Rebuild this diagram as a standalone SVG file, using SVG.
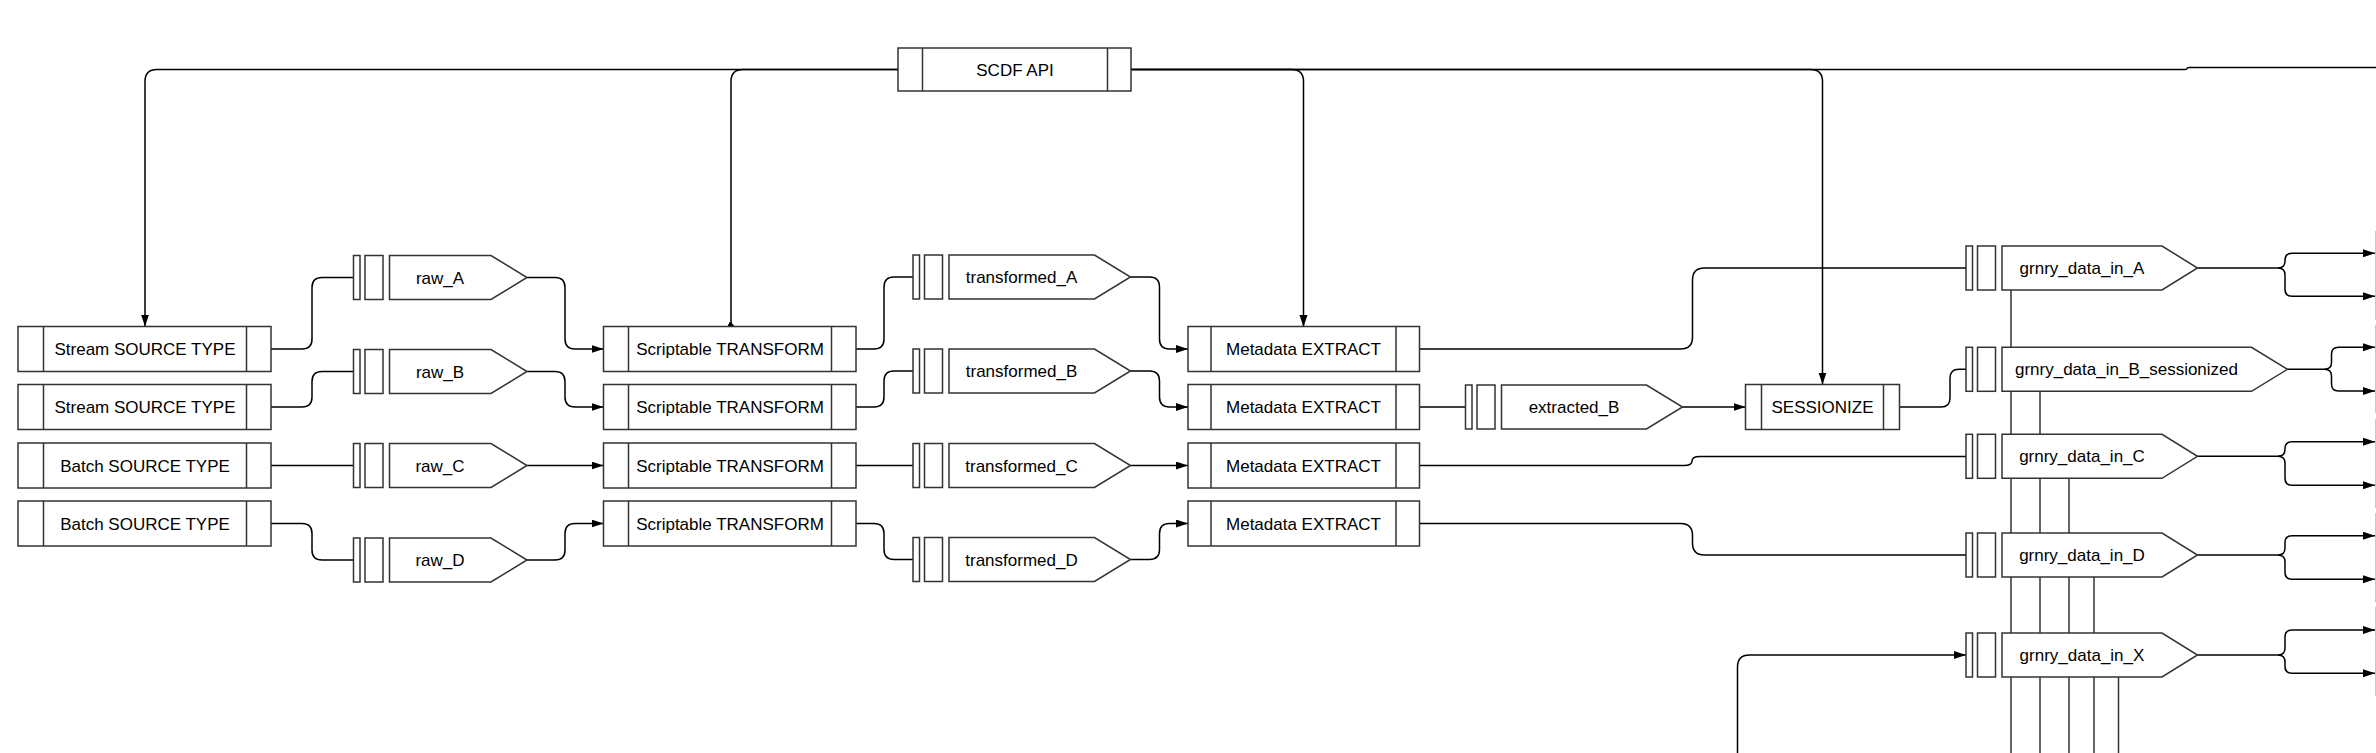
<svg xmlns="http://www.w3.org/2000/svg" width="2376" height="753" viewBox="0 0 2376 753">
<defs>
<style>
.box{fill:#fff;stroke:#333;stroke-width:1.5}
.bar{fill:none;stroke:#333;stroke-width:1.5}
.conn{fill:none;stroke:#000;stroke-width:1.5}
.drop{fill:none;stroke:#333;stroke-width:1.5}
.edge{fill:none;stroke:#c8c8c8;stroke-width:1}
text{font-family:"Liberation Sans",Arial,sans-serif;font-size:17px;fill:#000;text-anchor:middle}
</style>
<marker id="arr" markerUnits="userSpaceOnUse" markerWidth="13" markerHeight="10" refX="12" refY="4" orient="auto">
<path d="M0,0 L12,4 L0,8 z" fill="#000"/>
</marker>
<marker id="tiny" markerUnits="userSpaceOnUse" markerWidth="7" markerHeight="6" refX="6" refY="2.5" orient="auto">
<path d="M0,0 L6,2.5 L0,5 z" fill="#000"/>
</marker>
</defs>
<rect width="2376" height="753" fill="#fff"/>

<g id="drop-lines">
<line class="drop" x1="2011" y1="290" x2="2011" y2="753"/>
<line class="drop" x1="2040" y1="391" x2="2040" y2="753"/>
<line class="drop" x1="2069" y1="478" x2="2069" y2="753"/>
<line class="drop" x1="2094" y1="577" x2="2094" y2="753"/>
<line class="drop" x1="2118.5" y1="677" x2="2118.5" y2="753"/>
</g>

<g id="connectors">
<path class="conn" marker-end="url(#arr)" d="M898,69.5 H157 Q145,69.5 145,81.5 V326.5"/>
<path class="conn" marker-end="url(#tiny)" d="M898,69.5 H743 Q731,69.5 731,81.5 V322 Q731,325 734,326.5"/>
<path class="conn" marker-end="url(#arr)" d="M1131,69.5 H1291.5 Q1303.5,69.5 1303.5,81.5 V327"/>
<path class="conn" marker-end="url(#arr)" d="M1131,69.5 H1810.5 Q1822.5,69.5 1822.5,81.5 V384.5"/>
<path class="conn" d="M1131,69.5 H2185 Q2187,69.5 2187,68.5 Q2187,67.5 2189,67.5 H2376"/>

<path class="conn" d="M271,349 H302 Q312,349 312,339 V287.5 Q312,277.5 322,277.5 H353.5"/>
<path class="conn" d="M271,407 H302 Q312,407 312,397 V381.5 Q312,371.5 322,371.5 H353.5"/>
<path class="conn" d="M271,465.5 H353.5"/>
<path class="conn" d="M271,523.5 H302 Q312,523.5 312,533.5 V550 Q312,560 322,560 H353.5"/>

<path class="conn" marker-end="url(#arr)" d="M527,277.5 H555 Q565,277.5 565,287.5 V339 Q565,349 575,349 H603.5"/>
<path class="conn" marker-end="url(#arr)" d="M527,371.5 H555 Q565,371.5 565,381.5 V397 Q565,407 575,407 H603.5"/>
<path class="conn" marker-end="url(#arr)" d="M527,465.5 H603.5"/>
<path class="conn" marker-end="url(#arr)" d="M527,560 H555 Q565,560 565,550 V533.5 Q565,523.5 575,523.5 H603.5"/>

<path class="conn" d="M856,349 H874 Q884,349 884,339 V287 Q884,277 894,277 H913"/>
<path class="conn" d="M856,407 H874 Q884,407 884,397 V381 Q884,371 894,371 H913"/>
<path class="conn" d="M856,465.5 H913"/>
<path class="conn" d="M856,523.5 H874 Q884,523.5 884,533.5 V549.5 Q884,559.5 894,559.5 H913"/>

<path class="conn" marker-end="url(#arr)" d="M1130.5,277 H1149.5 Q1159.5,277 1159.5,287 V339 Q1159.5,349 1169.5,349 H1188"/>
<path class="conn" marker-end="url(#arr)" d="M1130.5,371 H1149.5 Q1159.5,371 1159.5,381 V397 Q1159.5,407 1169.5,407 H1188"/>
<path class="conn" marker-end="url(#arr)" d="M1130.5,465.5 H1188"/>
<path class="conn" marker-end="url(#arr)" d="M1130.5,559.5 H1149.5 Q1159.5,559.5 1159.5,549.5 V533.5 Q1159.5,523.5 1169.5,523.5 H1188"/>

<path class="conn" d="M1419.5,349 H1680.5 Q1692.5,349 1692.5,337 V280 Q1692.5,268 1704.5,268 H1966"/>
<path class="conn" d="M1419.5,407 H1465.5"/>
<path class="conn" d="M1419.5,465.5 H1684 Q1692,465.5 1692,461 Q1692,456.5 1700,456.5 H1966"/>
<path class="conn" d="M1419.5,523.5 H1680.5 Q1692.5,523.5 1692.5,535.5 V543 Q1692.5,555 1704.5,555 H1966"/>
<path class="conn" marker-end="url(#arr)" d="M1682.5,407 H1745.5"/>
<path class="conn" d="M1899.5,407 H1941 Q1950,407 1950,398 V378.3 Q1950,369.3 1959,369.3 H1966"/>
<path class="conn" marker-end="url(#arr)" d="M1737.5,753 V667 Q1737.5,655 1749.5,655 H1966"/>

<path class="conn" marker-end="url(#arr)" d="M2197.5,268 H2278 Q2285,268 2285,261 V260.3 Q2285,253.3 2292,253.3 H2375"/>
<path class="conn" marker-end="url(#arr)" d="M2278,268 Q2285,268 2285,275 V289.3 Q2285,296.3 2292,296.3 H2375"/>
<path class="conn" marker-end="url(#arr)" d="M2287.5,369.3 H2324.5 Q2331.5,369.3 2331.5,362.3 V354.3 Q2331.5,347.3 2338.5,347.3 H2375"/>
<path class="conn" marker-end="url(#arr)" d="M2324.5,369.3 Q2331.5,369.3 2331.5,376.3 V384 Q2331.5,391 2338.5,391 H2375"/>
<path class="conn" marker-end="url(#arr)" d="M2197.5,456.3 H2278 Q2285,456.3 2285,449.3 V448.7 Q2285,441.7 2292,441.7 H2375"/>
<path class="conn" marker-end="url(#arr)" d="M2278,456.3 Q2285,456.3 2285,463.3 V478.3 Q2285,485.3 2292,485.3 H2375"/>
<path class="conn" marker-end="url(#arr)" d="M2197.5,555 H2278 Q2285,555 2285,548 V542.7 Q2285,535.7 2292,535.7 H2375"/>
<path class="conn" marker-end="url(#arr)" d="M2278,555 Q2285,555 2285,562 V572.3 Q2285,579.3 2292,579.3 H2375"/>
<path class="conn" marker-end="url(#arr)" d="M2197.5,655 H2278 Q2285,655 2285,648 V637 Q2285,630 2292,630 H2375"/>
<path class="conn" marker-end="url(#arr)" d="M2278,655 Q2285,655 2285,662 V666.3 Q2285,673.3 2292,673.3 H2375"/>
</g>

<g id="offscreen-edges">
<line class="edge" x1="2375.5" y1="231" x2="2375.5" y2="320"/>
<line class="edge" x1="2375.5" y1="325" x2="2375.5" y2="413"/>
<line class="edge" x1="2375.5" y1="419" x2="2375.5" y2="508"/>
<line class="edge" x1="2375.5" y1="513" x2="2375.5" y2="602"/>
<line class="edge" x1="2375.5" y1="607" x2="2375.5" y2="696"/>
</g>

<g id="scdf-api">
<rect class="box" x="898" y="48" width="233" height="43"/>
<line class="bar" x1="922.5" y1="48" x2="922.5" y2="91"/>
<line class="bar" x1="1107.5" y1="48" x2="1107.5" y2="91"/>
<text x="1015" y="75.5">SCDF API</text>
</g>

<g id="source-1">
<rect class="box" x="18" y="326.5" width="253" height="45"/>
<line class="bar" x1="43.5" y1="326.5" x2="43.5" y2="371.5"/>
<line class="bar" x1="246.5" y1="326.5" x2="246.5" y2="371.5"/>
<text x="145" y="355">Stream SOURCE TYPE</text>
</g>
<g id="source-2">
<rect class="box" x="18" y="384.5" width="253" height="45"/>
<line class="bar" x1="43.5" y1="384.5" x2="43.5" y2="429.5"/>
<line class="bar" x1="246.5" y1="384.5" x2="246.5" y2="429.5"/>
<text x="145" y="413">Stream SOURCE TYPE</text>
</g>
<g id="source-3">
<rect class="box" x="18" y="443" width="253" height="45"/>
<line class="bar" x1="43.5" y1="443" x2="43.5" y2="488"/>
<line class="bar" x1="246.5" y1="443" x2="246.5" y2="488"/>
<text x="145" y="471.5">Batch SOURCE TYPE</text>
</g>
<g id="source-4">
<rect class="box" x="18" y="501" width="253" height="45"/>
<line class="bar" x1="43.5" y1="501" x2="43.5" y2="546"/>
<line class="bar" x1="246.5" y1="501" x2="246.5" y2="546"/>
<text x="145" y="529.5">Batch SOURCE TYPE</text>
</g>

<g id="raw-a">
<rect class="box" x="353.5" y="255.5" width="6.5" height="44"/>
<rect class="box" x="365" y="255.5" width="18" height="44"/>
<path class="box" d="M389.5,255.5 H491 L527,277.5 L491,299.5 H389.5 Z"/>
<text x="440" y="283.5">raw_A</text>
</g>
<g id="raw-b">
<rect class="box" x="353.5" y="349.5" width="6.5" height="44"/>
<rect class="box" x="365" y="349.5" width="18" height="44"/>
<path class="box" d="M389.5,349.5 H491 L527,371.5 L491,393.5 H389.5 Z"/>
<text x="440" y="377.5">raw_B</text>
</g>
<g id="raw-c">
<rect class="box" x="353.5" y="443.5" width="6.5" height="44"/>
<rect class="box" x="365" y="443.5" width="18" height="44"/>
<path class="box" d="M389.5,443.5 H491 L527,465.5 L491,487.5 H389.5 Z"/>
<text x="440" y="471.5">raw_C</text>
</g>
<g id="raw-d">
<rect class="box" x="353.5" y="538" width="6.5" height="44"/>
<rect class="box" x="365" y="538" width="18" height="44"/>
<path class="box" d="M389.5,538 H491 L527,560 L491,582 H389.5 Z"/>
<text x="440" y="566">raw_D</text>
</g>

<g id="transform-1">
<rect class="box" x="603.5" y="326.5" width="252.5" height="45"/>
<line class="bar" x1="628.5" y1="326.5" x2="628.5" y2="371.5"/>
<line class="bar" x1="831.5" y1="326.5" x2="831.5" y2="371.5"/>
<text x="730" y="355">Scriptable TRANSFORM</text>
</g>
<g id="transform-2">
<rect class="box" x="603.5" y="384.5" width="252.5" height="45"/>
<line class="bar" x1="628.5" y1="384.5" x2="628.5" y2="429.5"/>
<line class="bar" x1="831.5" y1="384.5" x2="831.5" y2="429.5"/>
<text x="730" y="413">Scriptable TRANSFORM</text>
</g>
<g id="transform-3">
<rect class="box" x="603.5" y="443" width="252.5" height="45"/>
<line class="bar" x1="628.5" y1="443" x2="628.5" y2="488"/>
<line class="bar" x1="831.5" y1="443" x2="831.5" y2="488"/>
<text x="730" y="471.5">Scriptable TRANSFORM</text>
</g>
<g id="transform-4">
<rect class="box" x="603.5" y="501" width="252.5" height="45"/>
<line class="bar" x1="628.5" y1="501" x2="628.5" y2="546"/>
<line class="bar" x1="831.5" y1="501" x2="831.5" y2="546"/>
<text x="730" y="529.5">Scriptable TRANSFORM</text>
</g>

<g id="transformed-a">
<rect class="box" x="913" y="255" width="6.5" height="44"/>
<rect class="box" x="924.5" y="255" width="18" height="44"/>
<path class="box" d="M949,255 H1094.5 L1130.5,277 L1094.5,299 H949 Z"/>
<text x="1021.5" y="283">transformed_A</text>
</g>
<g id="transformed-b">
<rect class="box" x="913" y="349" width="6.5" height="44"/>
<rect class="box" x="924.5" y="349" width="18" height="44"/>
<path class="box" d="M949,349 H1094.5 L1130.5,371 L1094.5,393 H949 Z"/>
<text x="1021.5" y="377">transformed_B</text>
</g>
<g id="transformed-c">
<rect class="box" x="913" y="443.5" width="6.5" height="44"/>
<rect class="box" x="924.5" y="443.5" width="18" height="44"/>
<path class="box" d="M949,443.5 H1094.5 L1130.5,465.5 L1094.5,487.5 H949 Z"/>
<text x="1021.5" y="471.5">transformed_C</text>
</g>
<g id="transformed-d">
<rect class="box" x="913" y="537.5" width="6.5" height="44"/>
<rect class="box" x="924.5" y="537.5" width="18" height="44"/>
<path class="box" d="M949,537.5 H1094.5 L1130.5,559.5 L1094.5,581.5 H949 Z"/>
<text x="1021.5" y="565.5">transformed_D</text>
</g>

<g id="extract-1">
<rect class="box" x="1188" y="326.5" width="231.5" height="45"/>
<line class="bar" x1="1211" y1="326.5" x2="1211" y2="371.5"/>
<line class="bar" x1="1396" y1="326.5" x2="1396" y2="371.5"/>
<text x="1303.5" y="355">Metadata EXTRACT</text>
</g>
<g id="extract-2">
<rect class="box" x="1188" y="384.5" width="231.5" height="45"/>
<line class="bar" x1="1211" y1="384.5" x2="1211" y2="429.5"/>
<line class="bar" x1="1396" y1="384.5" x2="1396" y2="429.5"/>
<text x="1303.5" y="413">Metadata EXTRACT</text>
</g>
<g id="extract-3">
<rect class="box" x="1188" y="443" width="231.5" height="45"/>
<line class="bar" x1="1211" y1="443" x2="1211" y2="488"/>
<line class="bar" x1="1396" y1="443" x2="1396" y2="488"/>
<text x="1303.5" y="471.5">Metadata EXTRACT</text>
</g>
<g id="extract-4">
<rect class="box" x="1188" y="501" width="231.5" height="45"/>
<line class="bar" x1="1211" y1="501" x2="1211" y2="546"/>
<line class="bar" x1="1396" y1="501" x2="1396" y2="546"/>
<text x="1303.5" y="529.5">Metadata EXTRACT</text>
</g>

<g id="extracted-b">
<rect class="box" x="1465.5" y="385" width="6.5" height="44"/>
<rect class="box" x="1477" y="385" width="18" height="44"/>
<path class="box" d="M1501.5,385 H1646.5 L1682.5,407 L1646.5,429 H1501.5 Z"/>
<text x="1574" y="413">extracted_B</text>
</g>

<g id="sessionize">
<rect class="box" x="1745.5" y="384.5" width="154" height="45"/>
<line class="bar" x1="1761.5" y1="384.5" x2="1761.5" y2="429.5"/>
<line class="bar" x1="1883.5" y1="384.5" x2="1883.5" y2="429.5"/>
<text x="1822.5" y="413">SESSIONIZE</text>
</g>

<g id="gmry-a">
<rect class="box" x="1966" y="246" width="6.5" height="44"/>
<rect class="box" x="1977.5" y="246" width="18" height="44"/>
<path class="box" d="M2002,246 H2162 L2197.5,268 L2162,290 H2002 Z"/>
<text x="2082" y="274">grnry_data_in_A</text>
</g>
<g id="gmry-b">
<rect class="box" x="1966" y="347.3" width="6.5" height="44"/>
<rect class="box" x="1977.5" y="347.3" width="18" height="44"/>
<path class="box" d="M2002,347.3 H2251.5 L2287.5,369.3 L2251.5,391.3 H2002 Z"/>
<text x="2126.5" y="375.3">grnry_data_in_B_sessionized</text>
</g>
<g id="gmry-c">
<rect class="box" x="1966" y="434.3" width="6.5" height="44"/>
<rect class="box" x="1977.5" y="434.3" width="18" height="44"/>
<path class="box" d="M2002,434.3 H2162 L2197.5,456.3 L2162,478.3 H2002 Z"/>
<text x="2082" y="462.3">grnry_data_in_C</text>
</g>
<g id="gmry-d">
<rect class="box" x="1966" y="533" width="6.5" height="44"/>
<rect class="box" x="1977.5" y="533" width="18" height="44"/>
<path class="box" d="M2002,533 H2162 L2197.5,555 L2162,577 H2002 Z"/>
<text x="2082" y="561">grnry_data_in_D</text>
</g>
<g id="gmry-x">
<rect class="box" x="1966" y="633" width="6.5" height="44"/>
<rect class="box" x="1977.5" y="633" width="18" height="44"/>
<path class="box" d="M2002,633 H2162 L2197.5,655 L2162,677 H2002 Z"/>
<text x="2082" y="661">grnry_data_in_X</text>
</g>
</svg>
